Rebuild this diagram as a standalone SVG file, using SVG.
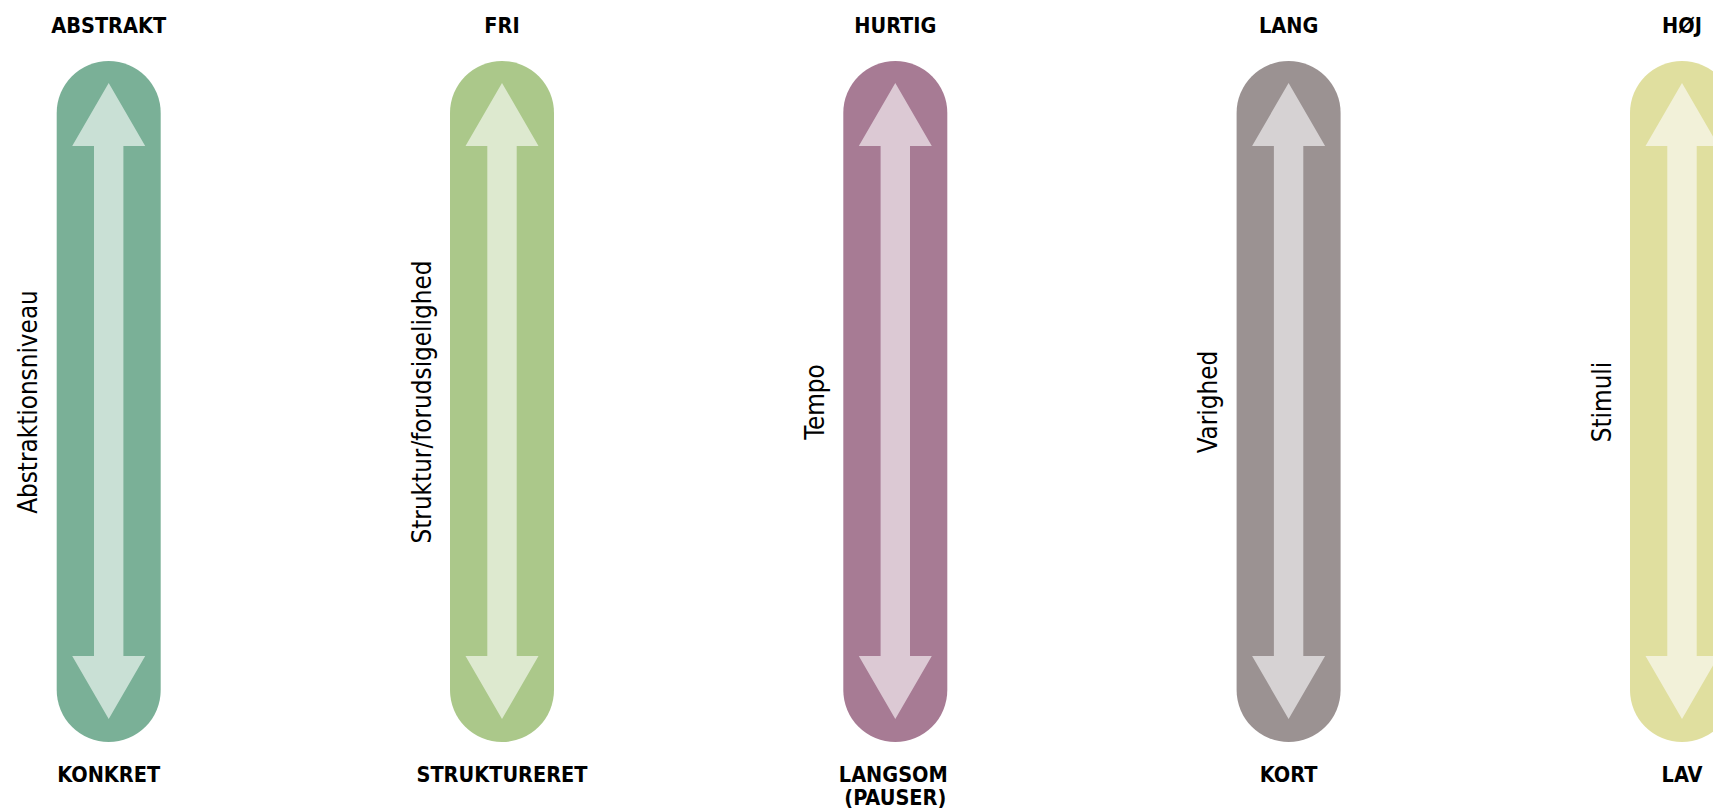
<svg xmlns="http://www.w3.org/2000/svg" xmlns:xlink="http://www.w3.org/1999/xlink" width="1713" height="811" viewBox="0 0 1713 811">
<style>
.t{font-family:"DejaVu Sans Condensed","DejaVu Sans",sans-serif;font-weight:bold;font-size:21.5px;fill:#000;text-anchor:middle}
.r{font-family:"DejaVu Sans Condensed","DejaVu Sans",sans-serif;font-size:25.8px;fill:#000;text-anchor:middle}
</style>
<defs>
<rect id="pill" x="-52" y="61" width="104" height="681" rx="52" ry="52"/>
<polygon id="arr" points="0,83 36.5,146 14.7,146 14.7,656 36.5,656 0,719 -36.5,656 -14.7,656 -14.7,146 -36.5,146"/>
</defs>
<rect width="1713" height="811" fill="#fff"/>
<g id="col1" transform="translate(108.7,0)">
<use xlink:href="#pill" fill="#7AB097"/>
<use xlink:href="#arr" fill="#C9E0D5"/>
<text class="t" x="0" y="33">ABSTRAKT</text>
<text class="t" x="0" y="782">KONKRET</text>
<text class="r" transform="translate(-71.5,402) rotate(-90)">Abstraktionsniveau</text>
</g>
<g id="col2" transform="translate(502,0)">
<use xlink:href="#pill" fill="#ABC88A"/>
<use xlink:href="#arr" fill="#DDE9CF"/>
<text class="t" x="0" y="33">FRI</text>
<text class="t" x="0" y="782">STRUKTURERET</text>
<text class="r" transform="translate(-71.5,402) rotate(-90)">Struktur/forudsigelighed</text>
</g>
<g id="col3" transform="translate(895.3,0)">
<use xlink:href="#pill" fill="#A77B94"/>
<use xlink:href="#arr" fill="#DCC9D4"/>
<text class="t" x="0" y="33">HURTIG</text>
<text class="t" x="-2" y="782">LANGSOM</text>
<text class="t" x="0" y="805">(PAUSER)</text>
<text class="r" transform="translate(-71.5,402) rotate(-90)">Tempo</text>
</g>
<g id="col4" transform="translate(1288.6,0)">
<use xlink:href="#pill" fill="#9B9292"/>
<use xlink:href="#arr" fill="#D6D2D3"/>
<text class="t" x="0" y="33">LANG</text>
<text class="t" x="0" y="782">KORT</text>
<text class="r" transform="translate(-71.5,402) rotate(-90)">Varighed</text>
</g>
<g id="col5" transform="translate(1682,0)">
<use xlink:href="#pill" fill="#E0DF9F"/>
<use xlink:href="#arr" fill="#F2F1D9"/>
<text class="t" x="0" y="33">HØJ</text>
<text class="t" x="0" y="782">LAV</text>
<text class="r" transform="translate(-71.5,402) rotate(-90)">Stimuli</text>
</g>
<g id="connectors"/>
</svg>
